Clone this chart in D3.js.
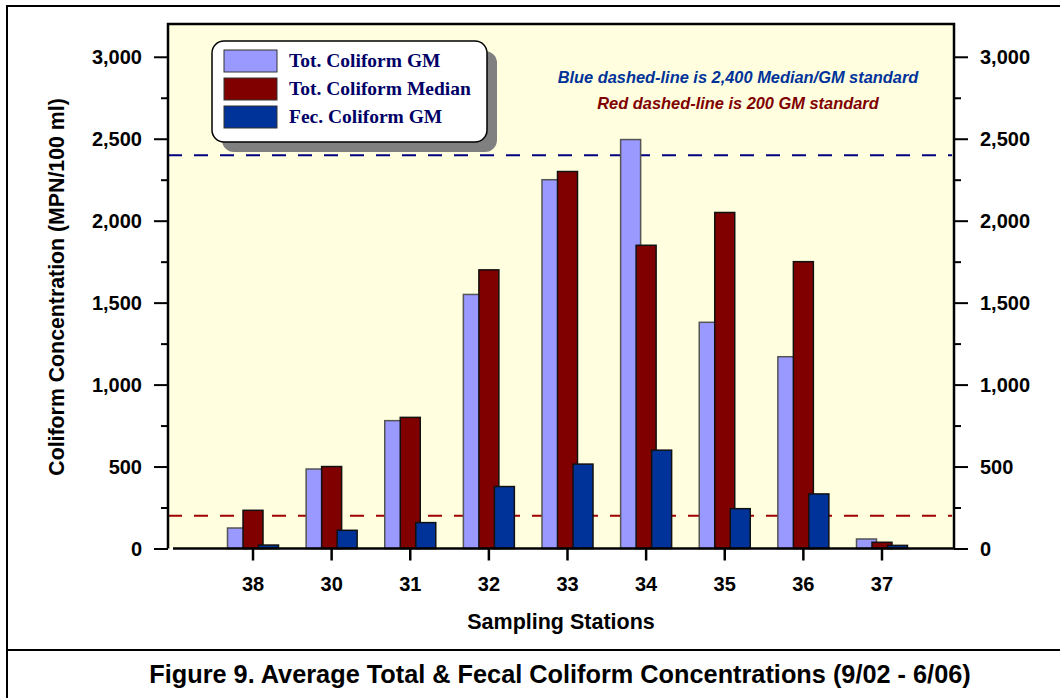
<!DOCTYPE html>
<html><head><meta charset="utf-8">
<script src="https://cdn.jsdelivr.net/npm/d3@7"></script>
<style>body{margin:0;background:#fff}svg{display:block}</style>
</head><body>
<svg id="c" width="1060" height="698"></svg>
<script>
const stations = ["38","30","31","32","33","34","35","36","37"];
const totGM =     [125, 485, 780, 1550, 2250, 2495, 1380, 1170, 58];
const totMedian = [233, 500, 800, 1700, 2300, 1850, 2050, 1750, 38];
const fecGM =     [21, 111, 158, 378, 515, 600, 243, 333, 19];
const seriesNames = ["Tot. Coliform GM","Tot. Coliform Median","Fec. Coliform GM"];
const seriesColors = ["#9999ff","#800000","#003399"];
const seriesStroke = ["#555","#111","#111"];
const yTicks = [0,500,1000,1500,2000,2500,3000];
const refLines = [{v:2400,color:"#000080"},{v:200,color:"#a00000"}];

const svg = d3.select("#c");
const L=168,R=954,T=24,B=548.5;
const FONT="Arial, 'Liberation Sans', sans-serif";
const y = d3.scaleLinear().domain([0,3200]).range([B,T]);
const x = d3.scaleBand().domain(stations).range([213.7,921.3]);

// outer frame
svg.append("rect").attr("x",7).attr("y",6).attr("width",1060).attr("height",700).attr("fill","none").attr("stroke","#000").attr("stroke-width",2);
svg.append("line").attr("x1",7).attr("x2",1060).attr("y1",650).attr("y2",650).attr("stroke","#000").attr("stroke-width",2);

// plot bg
svg.append("rect").attr("x",L).attr("y",T).attr("width",R-L).attr("height",B-T).attr("fill","#ffffe0");

// ref lines
refLines.forEach(r=>{
  svg.append("line").attr("x1",L).attr("x2",R-2).attr("y1",y(r.v)).attr("y2",y(r.v))
    .attr("stroke",r.color).attr("stroke-width",2).attr("stroke-dasharray","14,12");
});

// bars
const bw=20, off=15.5;
const data=[totGM,totMedian,fecGM];
data.forEach((arr,si)=>{
  svg.append("g").selectAll("rect").data(arr).join("rect")
    .attr("x",(d,i)=>x(stations[i])+x.bandwidth()/2-25.5+si*off)
    .attr("y",d=>y(d)).attr("width",bw).attr("height",d=>B-y(d))
    .attr("fill",seriesColors[si]).attr("stroke",seriesStroke[si]).attr("stroke-width",1.5);
});

// plot frame top/left/right
svg.append("path").attr("d",`M${L},${B}V${T}H${R}V${B}`).attr("fill","none").attr("stroke","#000").attr("stroke-width",2.5);

// axes
const fmt=d3.format(",");
const yl=svg.append("g").attr("transform",`translate(${L},0)`)
  .call(d3.axisLeft(y).tickValues(d3.range(0,3001,250)).tickSize(0).tickFormat(""));
yl.select(".domain").remove();
const yr=svg.append("g").attr("transform",`translate(${R},0)`)
  .call(d3.axisRight(y).tickValues(d3.range(0,3001,250)).tickSize(0).tickFormat(""));
yr.select(".domain").remove();
[yl,yr].forEach((g,k)=>{
  g.selectAll(".tick").append("line")
   .attr("x2",d=> (k==0?-1:1)*(d%500==0?14:7)).attr("stroke","#000").attr("stroke-width",2);
});
yTicks.forEach(v=>{
  svg.append("text").attr("x",142).attr("y",y(v)).attr("dy","0.36em").attr("text-anchor","end")
    .attr("font-family",FONT).attr("font-weight","bold").attr("font-size",20).text(fmt(v));
  svg.append("text").attr("x",980).attr("y",y(v)).attr("dy","0.36em").attr("text-anchor","start")
    .attr("font-family",FONT).attr("font-weight","bold").attr("font-size",20).text(fmt(v));
});

// x axis
svg.append("line").attr("x1",173).attr("x2",R).attr("y1",B).attr("y2",B).attr("stroke","#000").attr("stroke-width",2.5);
const xa=svg.append("g").attr("transform",`translate(0,${B})`)
  .call(d3.axisBottom(x).tickSize(0).tickFormat(""));
xa.select(".domain").remove();
xa.selectAll(".tick").append("line").attr("y2",12).attr("stroke","#000").attr("stroke-width",2.5);
xa.selectAll(".tick").append("text").attr("y",35.5).attr("dy","0.36em").attr("text-anchor","middle")
  .attr("fill","#000").attr("font-family",FONT).attr("font-weight","bold").attr("font-size",20)
  .text(d=>d);

// axis titles
svg.append("text").attr("x",561).attr("y",629).attr("text-anchor","middle")
  .attr("font-family",FONT).attr("font-weight","bold").attr("font-size",21.5).text("Sampling Stations");
svg.append("text").attr("transform","translate(64,287) rotate(-90)").attr("text-anchor","middle")
  .attr("font-family",FONT).attr("font-weight","bold").attr("font-size",21.3).text("Coliform Concentration (MPN/100 ml)");
svg.append("text").attr("x",560).attr("y",683).attr("text-anchor","middle")
  .attr("font-family",FONT).attr("font-weight","bold").attr("font-size",25.3).text("Figure 9. Average Total & Fecal Coliform Concentrations (9/02 - 6/06)");

// annotations
svg.append("text").attr("x",738).attr("y",83).attr("text-anchor","middle").attr("fill","#003399")
  .attr("font-family",FONT).attr("font-weight","bold").attr("font-style","italic").attr("font-size",16.4)
  .text("Blue dashed-line is 2,400 Median/GM standard");
svg.append("text").attr("x",738).attr("y",109).attr("text-anchor","middle").attr("fill","#800000")
  .attr("font-family",FONT).attr("font-weight","bold").attr("font-style","italic").attr("font-size",16.4)
  .text("Red dashed-line is 200 GM standard");

// legend
const lg=svg.append("g");
lg.append("rect").attr("x",222).attr("y",51).attr("width",275).attr("height",101).attr("rx",12).attr("fill","#808080");
lg.append("rect").attr("x",212).attr("y",41).attr("width",275).attr("height",101).attr("rx",12).attr("fill","#fff").attr("stroke","#000").attr("stroke-width",1.5);
seriesNames.forEach((n,i)=>{
  lg.append("rect").attr("x",224).attr("y",50+i*28).attr("width",53).attr("height",22)
    .attr("fill",seriesColors[i]).attr("stroke","#333").attr("stroke-width",1);
  lg.append("text").attr("x",289).attr("y",67+i*28).attr("fill","#000066")
    .attr("font-family","'Liberation Serif', 'DejaVu Serif', serif").attr("font-weight","bold").attr("font-size",19.5).text(n);
});
</script>
</body></html>
